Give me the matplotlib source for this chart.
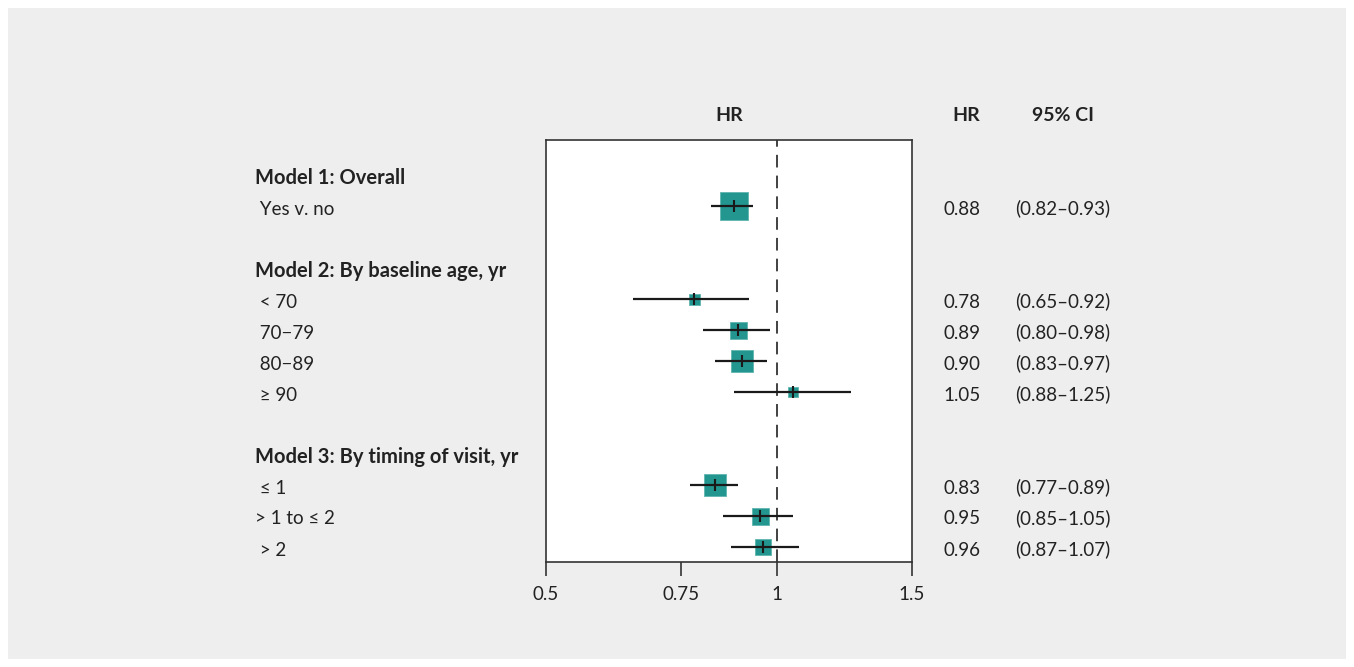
import matplotlib
matplotlib.use("Agg")
import matplotlib.pyplot as plt
from matplotlib.patches import Rectangle
import matplotlib.transforms as mtransforms

plt.rcParams['font.family'] = ['Lato', 'DejaVu Sans']

# ---- data ----
labels = ["Model 1: Overall", " Yes v. no", "",
          "Model 2: By baseline age, yr", " < 70", " 70\u221279", " 80\u221289", " \u2265 90", "",
          "Model 3: By timing of visit, yr", " \u2264 1", "> 1 to \u2264 2", " > 2"]
is_header = [True, False, False, True, False, False, False, False, False, True, False, False, False]
hr =      [None, 0.88, None, None, 0.78, 0.89, 0.90, 1.05, None, None, 0.83, 0.95, 0.96]
ci_low =  [None, 0.82, None, None, 0.65, 0.80, 0.83, 0.88, None, None, 0.77, 0.85, 0.87]
ci_high = [None, 0.93, None, None, 0.92, 0.98, 0.97, 1.25, None, None, 0.89, 1.05, 1.07]
weights = [None, 27, None, None, 11, 17, 22, 10, None, None, 23, 17, 16]
xticks = [0.5, 0.75, 1, 1.5]
xticklabels = ["0.5", "0.75", "1", "1.5"]

W, H = 1354, 667
fig = plt.figure(figsize=(W / 100, H / 100), dpi=100)
fig.patch.set_facecolor("white")
fig.patches.append(Rectangle((8 / W, 8 / H), (W - 16) / W, (H - 16) / H,
                             transform=fig.transFigure, facecolor="#eeeeee",
                             edgecolor="none", zorder=-10))

ax = fig.add_axes([546 / W, 1 - 562 / H, 366 / W, 422 / H])
ax.set_facecolor("white")
ax.set_xscale("log")
ax.set_xlim(0.5, 1.5)
row_px = 31.0
top = -37 / row_px
bottom = top + 422 / row_px
ax.set_ylim(bottom, top)

text_col = "#222222"
box_col = "#23968f"
line_col = "#1a1a1a"

# reference line
ax.axvline(1, color="#333333", lw=1.3, ls=(0, (7, 4.5)), zorder=1)

off = -2 / row_px
for i, v in enumerate(hr):
    if v is None:
        continue
    y = i + off
    side_pt = weights[i] * 72 / 100
    ax.scatter([v], [y], marker="s", s=side_pt ** 2, color=box_col,
               edgecolors="#5fb5b0", linewidths=0.6, zorder=2)
    ax.hlines(y, ci_low[i], ci_high[i], color=line_col, lw=1.6, zorder=3)
    ax.plot([v], [y], marker="|", markersize=9, mew=1.5, color=line_col, zorder=4)

ax.set_xticks(xticks)
ax.set_xticklabels(xticklabels)
ax.xaxis.set_minor_locator(matplotlib.ticker.NullLocator())
ax.tick_params(axis="x", which="major", length=10, width=1.2, color="#333333",
               labelsize=13.5, labelcolor=text_col, pad=7)
ax.set_yticks([])
for s in ax.spines.values():
    s.set_color("#333333")
    s.set_linewidth(1.2)

trans = mtransforms.blended_transform_factory(fig.transFigure, ax.transData)
base = 6.5 / row_px
for i, lab in enumerate(labels):
    if not lab:
        continue
    ax.text(255 / W, i + base, lab, transform=trans, ha="left", va="baseline",
            fontsize=14.5 if is_header[i] else 13.5, color=text_col,
            fontweight="bold" if is_header[i] else "normal", clip_on=False)
    if hr[i] is not None:
        ax.text(943 / W, i + base, f"{hr[i]:.2f}", transform=trans, ha="left",
                va="baseline", fontsize=13.5, color=text_col, clip_on=False)
        ax.text(1015 / W, i + base, f"({ci_low[i]:.2f}\u2013{ci_high[i]:.2f})",
                transform=trans, ha="left", va="baseline", fontsize=13.5,
                color=text_col, clip_on=False)

for x, t in [(729, "HR"), (966, "HR"), (1063, "95% CI")]:
    fig.text(x / W, 1 - 121 / H, t, ha="center", va="baseline", fontsize=14,
             fontweight="bold", color=text_col)

fig.savefig("out.png", dpi=100, facecolor=fig.get_facecolor())
